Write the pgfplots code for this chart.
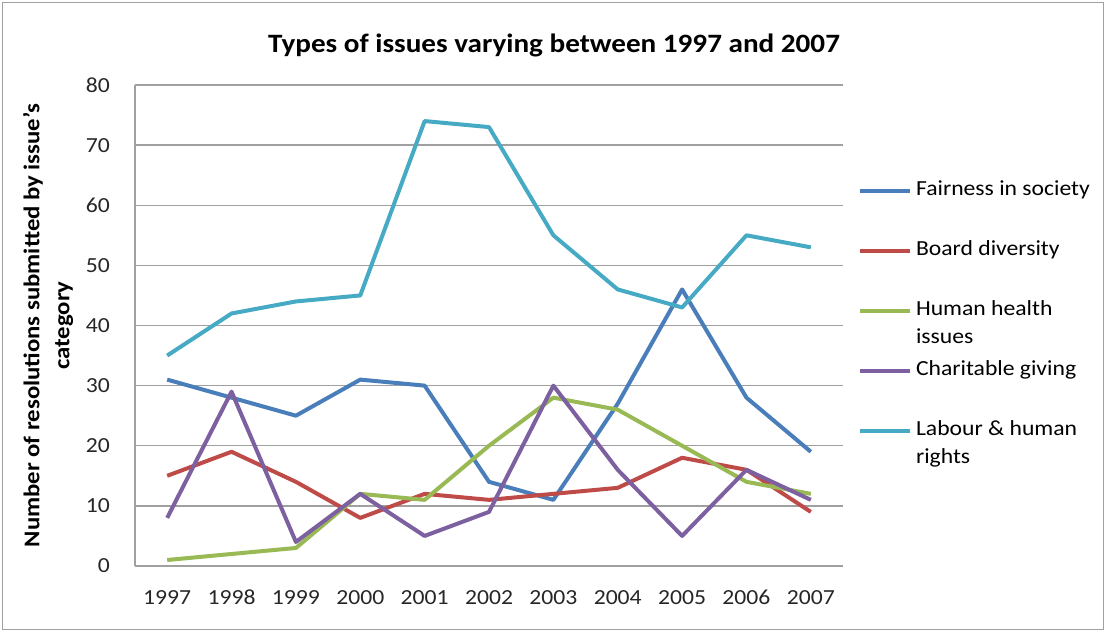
\documentclass[border=0pt]{standalone}
\usepackage{fontspec}
\setmainfont{Carlito}[FakeStretch=1.1]
\usepackage{pgfplots}
\pgfplotsset{compat=1.18}
\definecolor{cFair}{HTML}{4A7EBB}
\definecolor{cBoard}{HTML}{BE4B48}
\definecolor{cHealth}{HTML}{98B954}
\definecolor{cChar}{HTML}{7D60A0}
\definecolor{cLab}{HTML}{46AAC5}
\definecolor{cGrid}{HTML}{A0A0A0}
\begin{document}
\begin{tikzpicture}
\useasboundingbox (0pt,0pt) rectangle (1107pt,632pt);
\draw[cGrid, line width=1.5pt] (2.5pt,2.5pt) rectangle (1103.5pt,629.5pt);
\begin{axis}[
  at={(135pt,66pt)}, anchor=south west,
  scale only axis, width=708pt, height=481pt,
  xmin=-0.5, xmax=10.5, ymin=0, ymax=80,
  xtick={0,...,10},
  xticklabels={1997,1998,1999,2000,2001,2002,2003,2004,2005,2006,2007},
  ytick={0,10,...,80},
  major tick length=0pt,
  axis lines*=left,
  axis line style={cGrid, line width=1.3pt},
  ymajorgrids, grid style={cGrid, line width=1.3pt},
  tick label style={font=\fontsize{21.5}{24}\selectfont, text=black!85},
  /pgf/number format/assume math mode=true,
  yticklabel style={inner sep=0pt, xshift=-25pt},
  xticklabel style={inner sep=0pt, yshift=-24pt},
  title={Types of issues varying between 1997 and 2007},
  title style={font=\bfseries\fontsize{26.5}{30}\selectfont, at={(axis description cs:0.5918,1.0707)}, anchor=center, inner sep=0pt},
  ylabel={Number of resolutions submitted by issue's\\category},
  ylabel style={font=\bfseries\fontsize{22.5}{30}\selectfont, align=center, at={(axis description cs:-0.1229,0.5)}, anchor=center, inner sep=0pt},
  legend cell align=left,
  legend image code/.code={\draw[#1, line width=4pt] (0pt,0pt) -- (50pt,0pt);},
  legend style={draw=none, fill=none, inner sep=0pt, outer sep=0pt,
    at={(axis description cs:1.0212,0.8004)}, anchor=north west,
    font=\fontsize{21.5}{30}\selectfont, row sep=41pt, column sep=4pt,
    nodes={inner sep=0pt, text height=14pt, text depth=5pt}},
  clip=false,
]
\addplot[cFair, line width=4pt, line join=round, no marks] coordinates {(0,31)(1,28)(2,25)(3,31)(4,30)(5,14)(6,11)(7,27)(8,46)(9,28)(10,19)};
\addlegendentry{Fairness in society}
\addplot[cBoard, line width=4pt, line join=round, no marks] coordinates {(0,15)(1,19)(2,14)(3,8)(4,12)(5,11)(6,12)(7,13)(8,18)(9,16)(10,9)};
\addlegendentry{Board diversity}
\addplot[cHealth, line width=4pt, line join=round, no marks] coordinates {(0,1)(1,2)(2,3)(3,12)(4,11)(5,20)(6,28)(7,26)(8,20)(9,14)(10,12)};
\addlegendentry{\raisebox{0pt}[\height][0pt]{\begin{tabular}[t]{@{}l@{}}Human health\\[-1.5pt]issues\end{tabular}}}
\addplot[cChar, line width=4pt, line join=round, no marks] coordinates {(0,8)(1,29)(2,4)(3,12)(4,5)(5,9)(6,30)(7,16)(8,5)(9,16)(10,11)};
\addlegendentry{Charitable giving}
\addplot[cLab, line width=4pt, line join=round, no marks] coordinates {(0,35)(1,42)(2,44)(3,45)(4,74)(5,73)(6,55)(7,46)(8,43)(9,55)(10,53)};
\addlegendentry{\raisebox{0pt}[\height][0pt]{\begin{tabular}[t]{@{}l@{}}Labour \& human\\[-1.5pt]rights\end{tabular}}}
\end{axis}
\end{tikzpicture}
\end{document}
